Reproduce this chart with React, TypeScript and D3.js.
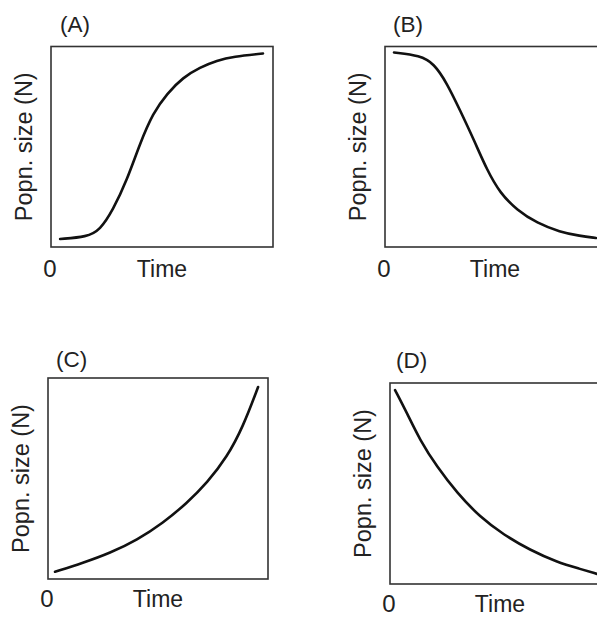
import React from "react";
import * as d3 from "d3";

// Panel labels
const panelLabels = ["(A)", "(B)", "(C)", "(D)"];
const yAxisLabel = "Popn. size (N)";
const xAxisLabel = "Time";
const originLabel = "0";

// Curves: time (0-10) vs population size (0-100, relative)
const timeA = [0.41, 1.62, 2.21, 2.79, 3.42, 4.01, 4.59, 5.23, 5.95, 6.71, 7.48, 8.2, 9.55];
const sizeA = [4.0, 5.0, 8.5, 18.4, 33.3, 51.7, 66.7, 76.6, 84.6, 89.6, 93.0, 95.0, 96.5];

const timeB = [0.41, 1.59, 2.23, 2.82, 3.41, 4.05, 4.64, 5.23, 6.0, 6.91, 7.95, 8.86, 9.59];
const sizeB = [97.0, 95.5, 91.5, 81.6, 68.2, 53.2, 38.3, 26.9, 18.4, 11.9, 7.5, 5.5, 4.5];

const timeC = [0.32, 1.59, 2.82, 4.05, 5.23, 6.32, 7.23, 8.14, 8.86, 9.55];
const sizeC = [3.6, 8.0, 12.9, 19.4, 27.9, 37.8, 47.8, 60.7, 75.6, 95.5];

const timeD = [0.23, 0.77, 1.36, 2.14, 3.05, 4.09, 5.18, 6.36, 7.59, 8.64, 9.41];
const sizeD = [96.5, 85.1, 71.6, 58.2, 45.3, 33.3, 24.4, 16.9, 10.9, 7.5, 5.0];

const panels = [
  { label: panelLabels[0], t: timeA, n: sizeA, x: 51, y: 46.5, w: 222, h: 200.5, lx: 60, ly: 32, by: 29.5 },
  { label: panelLabels[1], t: timeB, n: sizeB, x: 385, y: 46.5, w: 220, h: 200.5, lx: 393, ly: 32, by: 29.5 },
  { label: panelLabels[2], t: timeC, n: sizeC, x: 48, y: 378, w: 220, h: 201, lx: 56, ly: 367, by: 28 },
  { label: panelLabels[3], t: timeD, n: sizeD, x: 390, y: 383, w: 220, h: 201, lx: 396, ly: 368, by: 27.5 },
];

const FONT = "'Liberation Sans', Arial, Helvetica, sans-serif";

function Panel({ p }: { p: typeof panels[number] }) {
  const xs = d3.scaleLinear().domain([0, 10]).range([p.x, p.x + p.w]);
  const ys = d3.scaleLinear().domain([0, 100]).range([p.y + p.h, p.y]);
  const pts = p.t.map((t, i) => [t, p.n[i]] as [number, number]);
  const line = d3
    .line<[number, number]>()
    .x((d) => xs(d[0]))
    .y((d) => ys(d[1]))
    .curve(d3.curveBasis);
  const cy = p.y + p.h / 2;
  return (
    <g>
      <rect x={p.x} y={p.y} width={p.w} height={p.h} fill="none" stroke="#333" strokeWidth={1.6} />
      <path d={line(pts) || ""} fill="none" stroke="#111" strokeWidth={2.6} strokeLinecap="round" />
      <text x={p.lx} y={p.ly} fontFamily={FONT} fontSize={22.5} fill="#222">
        {p.label}
      </text>
      <text
        transform={`translate(${p.x - 19},${cy}) rotate(-90)`}
        textAnchor="middle"
        fontFamily={FONT}
        fontSize={23.5}
        fill="#222"
      >
        {yAxisLabel}
      </text>
      <text x={p.x - 1} y={p.y + p.h + p.by} textAnchor="middle" fontFamily={FONT} fontSize={24} fill="#222">
        {originLabel}
      </text>
      <text x={p.x + p.w / 2} y={p.y + p.h + p.by} textAnchor="middle" fontFamily={FONT} fontSize={23} fill="#222">
        {xAxisLabel}
      </text>
    </g>
  );
}

export default function App() {
  return (
    <svg
      width={597}
      height={617}
      style={{ position: "absolute", left: 0, top: 0, background: "#fff" }}
    >
      <rect x={0} y={0} width={597} height={617} fill="#fff" />
      {panels.map((p) => (
        <Panel key={p.label} p={p} />
      ))}
    </svg>
  );
}
